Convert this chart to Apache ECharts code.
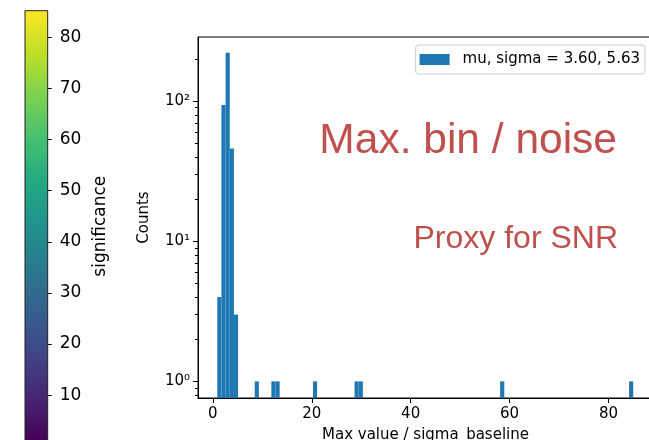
<!DOCTYPE html>
<html>
<head>
<meta charset="utf-8">
<script src="https://cdn.jsdelivr.net/npm/echarts@6/dist/echarts.min.js"></script>
<style>
  html, body { margin: 0; padding: 0; background: #fff; }
  #chart { width: 649px; height: 440px; }
</style>
</head>
<body>
<div id="chart"></div>
<script>
// Histogram of max value / sigma_baseline (100 equal bins between histMin and histMax)
const histMin = 0.9;
const histMax = 85.0;
const nBins = 100;
// non-empty bins: bin index and count
const binIndex = [0, 1, 2, 3, 4, 9, 13, 14, 23, 33, 34, 68, 99];
const binCount = [4, 94, 222, 46, 3, 1, 1, 1, 1, 1, 1, 1, 1];
const legendLabel = 'mu, sigma = 3.60, 5.63';

// axis ranges and ticks
const xRange = [-3.0, 89.0];
const xTicks = [0, 20, 40, 60, 80];
const yRange = [0.761, 288];
const yMajorTicks = [1, 10, 100];
const yMinorTicks = [0.8, 0.9, 2, 3, 4, 5, 6, 7, 8, 9, 20, 30, 40, 50, 60, 70, 80, 90, 200];

// colour bar
const cbRange = [0.9, 85.2];
const cbTicks = [10, 20, 30, 40, 50, 60, 70, 80];
const viridis = ['#440154', '#482475', '#414487', '#355f8d', '#2a788e', '#21918c',
                 '#22a884', '#44bf70', '#7ad151', '#bddf26', '#fde725'];

// annotation text
const noteTitle = 'Max. bin / noise';
const noteSub = 'Proxy for SNR';

const binWidth = (histMax - histMin) / nBins;
const histData = binIndex.map((k, i) => [histMin + k * binWidth, histMin + (k + 1) * binWidth, binCount[i]]);

const sup = { '0': '\u2070', '1': '\u00b9', '2': '\u00b2', '3': '\u00b3', '-': '\u207b' };
function logLabel(v) {
  const e = String(Math.round(Math.log10(v)));
  return '10' + e.split('').map(c => sup[c]).join('');
}

const font = 'DejaVu Sans';
const chart = echarts.init(document.getElementById('chart'), null, { renderer: 'canvas' });

chart.setOption({
  backgroundColor: '#fff',
  animation: false,
  textStyle: { fontFamily: font },
  grid: [
    { left: 198, top: 37, width: 455, height: 361, show: true, borderColor: '#000', borderWidth: 1,
      containLabel: false, outerBoundsMode: 'none' },
    { left: 25, top: 10.7, width: 22.7, height: 431, show: false, containLabel: false, outerBoundsMode: 'none' }
  ],
  legend: {
    data: [{ name: legendLabel, icon: 'rect' }],
    right: 4, top: 45,
    itemWidth: 30, itemHeight: 11,
    padding: [7, 5, 7, 4],
    borderColor: '#cccccc', borderWidth: 1, borderRadius: 3,
    backgroundColor: '#fff',
    textStyle: { fontFamily: font, fontSize: 15, color: '#000', padding: [0, 0, 0, 8] }
  },
  xAxis: [
    {
      type: 'value', gridIndex: 0, min: xRange[0], max: xRange[1],
      name: 'Max value / sigma_baseline', nameLocation: 'middle', nameGap: 30,
      nameTextStyle: { fontFamily: font, fontSize: 15, color: '#000' },
      axisLine: { show: true, onZero: false, lineStyle: { color: '#000', width: 1 } },
      axisTick: { show: true, customValues: xTicks, length: 5, lineStyle: { color: '#000' } },
      axisLabel: { customValues: xTicks, fontSize: 15, color: '#000', margin: 9, fontFamily: font },
      splitLine: { show: false }
    },
    { type: 'value', gridIndex: 1, min: 0, max: 1, show: false }
  ],
  yAxis: [
    {
      type: 'log', logBase: 10, gridIndex: 0, position: 'left', min: yRange[0], max: yRange[1],
      name: 'Counts', nameLocation: 'middle', nameGap: 46, nameRotate: 90,
      nameTextStyle: { fontFamily: font, fontSize: 15, color: '#000' },
      axisLine: { show: true, onZero: false, lineStyle: { color: '#000', width: 1 } },
      axisTick: { show: true, customValues: yMajorTicks, length: 5, lineStyle: { color: '#000' } },
      axisLabel: { customValues: yMajorTicks, formatter: logLabel, fontSize: 15, color: '#000', margin: 8, fontFamily: font },
      splitLine: { show: false }
    },
    {
      // minor ticks of the log axis
      type: 'log', logBase: 10, gridIndex: 0, position: 'left', min: yRange[0], max: yRange[1],
      axisLine: { show: false, onZero: false },
      axisTick: { show: true, customValues: yMinorTicks, length: 3, lineStyle: { color: '#000' } },
      axisLabel: { show: false },
      splitLine: { show: false }
    },
    {
      type: 'value', gridIndex: 1, position: 'right', min: cbRange[0], max: cbRange[1],
      name: 'significance', nameLocation: 'middle', nameGap: 44, nameRotate: 90,
      nameTextStyle: { fontFamily: font, fontSize: 17, color: '#000' },
      axisLine: { show: false, onZero: false },
      axisTick: { show: true, customValues: cbTicks, length: 4, lineStyle: { color: '#000' } },
      axisLabel: { customValues: cbTicks, fontSize: 17, color: '#000', margin: 12, fontFamily: font },
      splitLine: { show: false }
    }
  ],
  graphic: [
    {
      type: 'text', right: 649 - 617, top: 120,
      style: { text: noteTitle, fontSize: 42.5, fontFamily: 'Liberation Sans', fill: '#c0504d', textAlign: 'right' }
    },
    {
      type: 'text', right: 649 - 618, top: 223,
      style: { text: noteSub, fontSize: 32, fontFamily: 'Liberation Sans', fill: '#c0504d', textAlign: 'right' }
    }
  ],
  series: [
    {
      name: legendLabel,
      type: 'custom',
      xAxisIndex: 0, yAxisIndex: 0,
      itemStyle: { color: '#1f77b4' },
      encode: { x: [0, 1], y: 2 },
      data: histData,
      renderItem: function (params, api) {
        const top = api.coord([api.value(0), api.value(2)]);
        const base = api.coord([api.value(1), yRange[0]]);
        return {
          type: 'rect',
          shape: { x: top[0], y: top[1], width: base[0] - top[0], height: base[1] - top[1] },
          style: { fill: '#1f77b4' }
        };
      }
    },
    {
      name: 'colorbar',
      type: 'custom',
      xAxisIndex: 1, yAxisIndex: 2,
      silent: true,
      encode: { x: [], y: [0, 1] },
      data: [cbRange],
      renderItem: function (params, api) {
        const hi = api.coord([0, api.value(1)]);
        const lo = api.coord([1, api.value(0)]);
        const stops = viridis.map((c, i) => ({ offset: i / (viridis.length - 1), color: c }));
        return {
          type: 'rect',
          shape: { x: hi[0], y: hi[1], width: lo[0] - hi[0], height: lo[1] - hi[1] },
          style: {
            fill: { type: 'linear', x: 0, y: 1, x2: 0, y2: 0, colorStops: stops },
            stroke: '#222', lineWidth: 1
          }
        };
      }
    }
  ]
});
</script>
</body>
</html>
